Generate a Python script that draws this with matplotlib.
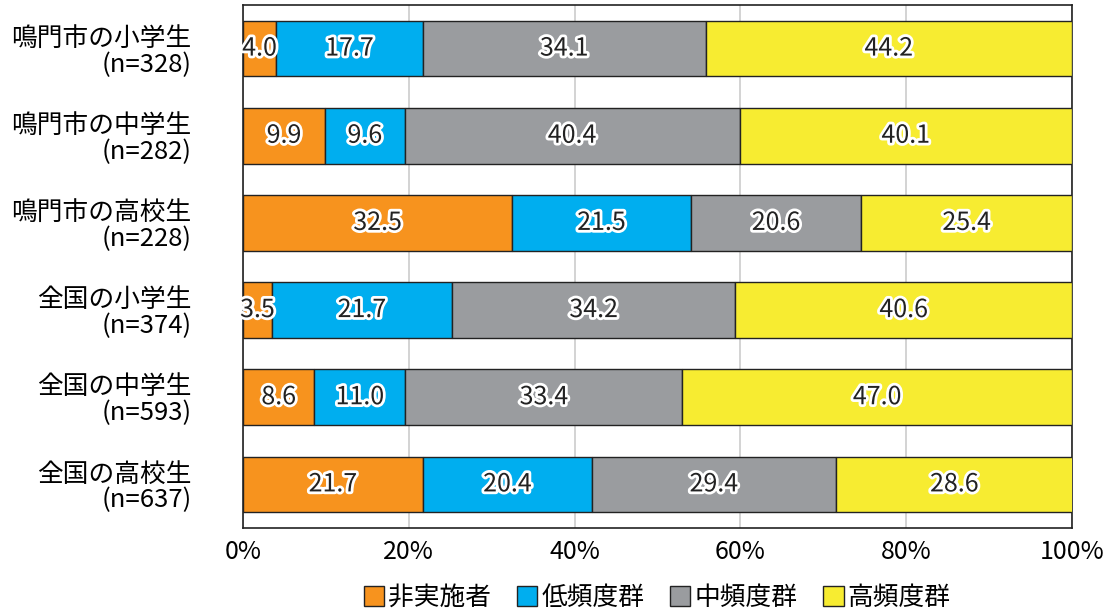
import matplotlib.pyplot as plt
import matplotlib.patheffects as pe
from matplotlib import font_manager
import numpy as np

categories = ['鳴門市の小学生\n(n=328)', '鳴門市の中学生\n(n=282)', '鳴門市の高校生\n(n=228)',
              '全国の小学生\n(n=374)', '全国の中学生\n(n=593)', '全国の高校生\n(n=637)']
series_names = ['非実施者', '低頻度群', '中頻度群', '高頻度群']
non_practice = [4.0, 9.9, 32.5, 3.5, 8.6, 21.7]
low_freq = [17.7, 9.6, 21.5, 21.7, 11.0, 20.4]
mid_freq = [34.1, 40.4, 20.6, 34.2, 33.4, 29.4]
high_freq = [44.2, 40.1, 25.4, 40.6, 47.0, 28.6]
colors = ['#F7931E', '#00AEEF', '#9A9C9F', '#F7EC31']

plt.rcParams['font.family'] = ['Noto Sans CJK JP', 'DejaVu Sans']
names = sorted({f.name for f in font_manager.fontManager.ttflist})
print([n for n in names if 'Narrow' in n or 'Condensed' in n or 'Liberation' in n or 'DejaVu' in n])
print([(f.name, f.stretch) for f in font_manager.fontManager.ttflist if 'DejaVu' in f.name])


def main():
    fig = plt.figure(figsize=(11.05, 6.13), dpi=100)
    ax = fig.add_axes([243 / 1105, 85 / 613, 829 / 1105, 523 / 613])

    y = np.arange(len(categories))
    left = np.zeros(len(categories))
    for name, vals, c in zip(series_names, [non_practice, low_freq, mid_freq, high_freq], colors):
        vals = np.array(vals)
        ax.barh(y, vals, left=left, height=0.64, color=c, edgecolor='#222222',
                linewidth=1, label=name, zorder=3)
        for yi, l, v in zip(y, left, vals):
            ax.text(l + v / 2, yi, f'{v:.1f}', ha='center', va='center',
                    fontsize=18, color='#222222', zorder=4,
                    path_effects=[pe.withStroke(linewidth=4, foreground='white')])
        left += vals

    ax.set_xlim(0, 100)
    ax.set_ylim(5.5, -0.5)
    ax.set_yticks(y)
    ax.set_yticklabels(categories, fontsize=18.5, ha='right', multialignment='right', linespacing=1.0)
    ax.set_xticks([0, 20, 40, 60, 80, 100])
    ax.set_xticklabels(['0%', '20%', '40%', '60%', '80%', '100%'], fontsize=18)
    ax.tick_params(axis='y', length=0, pad=37)
    ax.tick_params(axis='x', length=0, pad=8)
    ax.grid(axis='x', color='#cccccc', linewidth=1.2, zorder=0)
    for s in ax.spines.values():
        s.set_color('#222222')
        s.set_linewidth(1.2)

    fig.legend(loc='center', bbox_to_anchor=(657 / 1105, 15 / 613), ncol=4, frameon=False,
               fontsize=18.5, handlelength=0.8, handleheight=0.8, handletextpad=0.15,
               columnspacing=1.0, borderpad=0)

    fig.savefig('out.png', dpi=100)


if __name__ == "__main__":
    main()
